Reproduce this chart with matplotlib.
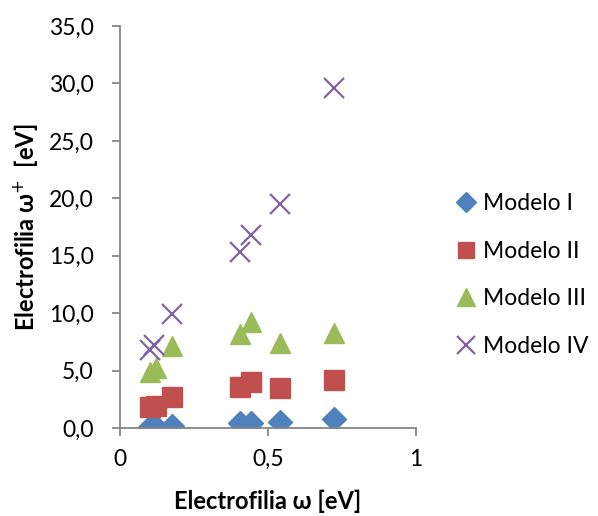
import matplotlib
matplotlib.use("Agg")
import matplotlib.pyplot as plt

plt.rcParams['font.family'] = ['Lato', 'DejaVu Sans']

x_vals = [0.10, 0.12, 0.176, 0.405, 0.443, 0.54, 0.723]
modelo_I = [0.10, 0.12, 0.17, 0.45, 0.46, 0.55, 0.76]
modelo_II = [1.8, 1.9, 2.7, 3.55, 4.0, 3.5, 4.2]
modelo_III = [4.9, 5.2, 7.1, 8.2, 9.2, 7.4, 8.25]
x_IV = [0.10, 0.115, 0.176, 0.405, 0.443, 0.54, 0.723]
modelo_IV = [6.8, 7.2, 9.95, 15.3, 16.8, 19.5, 29.6]

series_names = ["Modelo I", "Modelo II", "Modelo III", "Modelo IV"]
colors = ["#4F81BD", "#C0504D", "#9BBB59", "#8064A2"]

y_ticks = [0, 5, 10, 15, 20, 25, 30, 35]
y_ticklabels = ["0,0", "5,0", "10,0", "15,0", "20,0", "25,0", "30,0", "35,0"]
x_ticks = [0, 0.5, 1]
x_ticklabels = ["0", "0,5", "1"]

fig = plt.figure(figsize=(5.98, 5.16), dpi=100)
ax = fig.add_axes([120/598, 88/516, 296/598, 402/516])

ax.plot(x_vals, modelo_I, linestyle='none', marker='D', markersize=12,
        color=colors[0], label=series_names[0])
ax.plot(x_vals, modelo_II, linestyle='none', marker='s', markersize=14,
        color=colors[1], label=series_names[1])
ax.plot(x_vals, modelo_III, linestyle='none', marker='^', markersize=15,
        color=colors[2], label=series_names[2])
ax.plot(x_IV, modelo_IV, linestyle='none', marker='x', markersize=15,
        markeredgewidth=1.6, color=colors[3], label=series_names[3])

ax.set_xlim(0, 1)
ax.set_ylim(0, 35)
ax.set_xticks(x_ticks)
ax.set_xticklabels(x_ticklabels)
ax.set_yticks(y_ticks)
ax.set_yticklabels(y_ticklabels)

for s in ['top', 'right']:
    ax.spines[s].set_visible(False)
for s in ['left', 'bottom']:
    ax.spines[s].set_color('#868686')
    ax.spines[s].set_linewidth(1.3)
ax.tick_params(axis='both', colors='#868686', labelcolor='black',
               labelsize=16.5, length=6, width=1.3, direction='out')
ax.tick_params(axis='x', pad=9)
ax.tick_params(axis='y', pad=13)

ax.set_xlabel("Electrofilia ω [eV]", fontsize=17, fontweight='bold', labelpad=14)
ax.set_ylabel("Electrofilia ω$^{+}$  [eV]", fontsize=17, fontweight='bold', labelpad=6)

fig.legend(loc='center left', bbox_to_anchor=(428/598, 1 - 275/516),
           frameon=False, fontsize=16.5, labelspacing=1.15, handletextpad=0.0,
           handlelength=1.5, markerscale=0.85)

fig.savefig("out.png", dpi=100)
